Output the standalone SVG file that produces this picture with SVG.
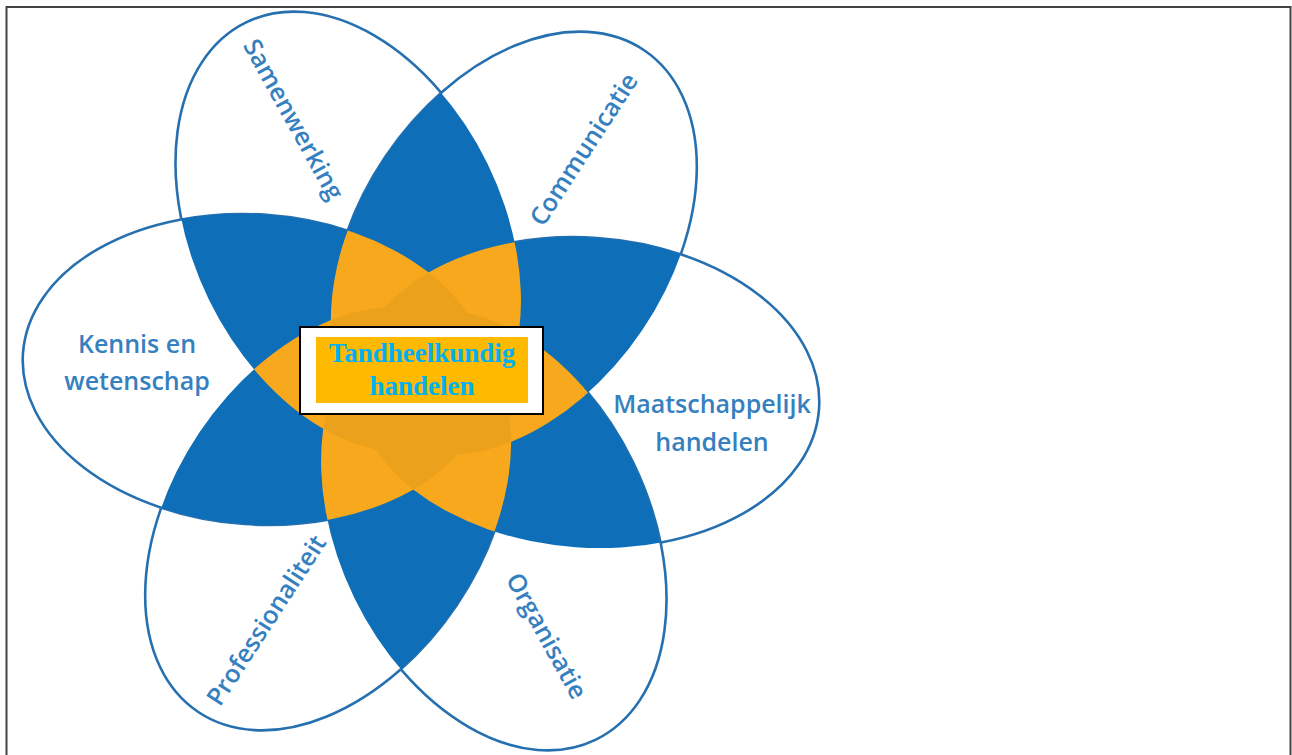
<svg xmlns="http://www.w3.org/2000/svg" xmlns:xlink="http://www.w3.org/1999/xlink" width="1292" height="755" viewBox="0 0 1292 755">
<style>
.petal{fill:#ffffff;stroke:#2670b0;stroke-width:2.6}
.lbl{font-family:"Open Sans","Noto Sans","DejaVu Sans",sans-serif;font-size:25px;font-weight:600;fill:#3580bf;text-anchor:middle}
.ctr{font-family:"Liberation Serif","Times New Roman",serif;font-weight:bold;font-size:27px;fill:#00b0f0;text-anchor:middle}
</style>
<defs>
<ellipse id="e1" cx="166" cy="0" rx="233" ry="155" transform="translate(421,381) rotate(-116)"/>
<ellipse id="e2" cx="166" cy="0" rx="233" ry="155" transform="translate(421,381) rotate(-56)"/>
<ellipse id="e3" cx="166" cy="0" rx="233" ry="155" transform="translate(421,381) rotate(4)"/>
<ellipse id="e4" cx="166" cy="0" rx="233" ry="155" transform="translate(421,381) rotate(64)"/>
<ellipse id="e5" cx="166" cy="0" rx="233" ry="155" transform="translate(421,381) rotate(124)"/>
<ellipse id="e6" cx="166" cy="0" rx="233" ry="155" transform="translate(421,381) rotate(184)"/>
<clipPath id="c1"><use xlink:href="#e1"/></clipPath>
<clipPath id="c2"><use xlink:href="#e2"/></clipPath>
<clipPath id="c3"><use xlink:href="#e3"/></clipPath>
<clipPath id="c4"><use xlink:href="#e4"/></clipPath>
<clipPath id="c5"><use xlink:href="#e5"/></clipPath>
<clipPath id="c6"><use xlink:href="#e6"/></clipPath>
</defs>
<rect x="6.5" y="7" width="1284" height="760" fill="#ffffff" stroke="#444444" stroke-width="2"/>
<g id="petals">
<use xlink:href="#e1" class="petal"/>
<use xlink:href="#e2" class="petal"/>
<use xlink:href="#e3" class="petal"/>
<use xlink:href="#e4" class="petal"/>
<use xlink:href="#e5" class="petal"/>
<use xlink:href="#e6" class="petal"/>
</g>
<g id="overlap2" fill="#0e6eb8">
<g clip-path="url(#c1)"><use xlink:href="#e2"/><use xlink:href="#e3"/><use xlink:href="#e4"/><use xlink:href="#e5"/><use xlink:href="#e6"/></g>
<g clip-path="url(#c2)"><use xlink:href="#e3"/><use xlink:href="#e4"/><use xlink:href="#e5"/><use xlink:href="#e6"/></g>
<g clip-path="url(#c3)"><use xlink:href="#e4"/><use xlink:href="#e5"/><use xlink:href="#e6"/></g>
<g clip-path="url(#c4)"><use xlink:href="#e5"/><use xlink:href="#e6"/></g>
<g clip-path="url(#c5)"><use xlink:href="#e6"/></g>
</g>
<g id="overlap3" fill="#f7a81c">
<g clip-path="url(#c1)">
<g clip-path="url(#c2)"><use xlink:href="#e3"/><use xlink:href="#e4"/><use xlink:href="#e5"/><use xlink:href="#e6"/></g>
<g clip-path="url(#c3)"><use xlink:href="#e4"/><use xlink:href="#e5"/><use xlink:href="#e6"/></g>
<g clip-path="url(#c4)"><use xlink:href="#e5"/><use xlink:href="#e6"/></g>
<g clip-path="url(#c5)"><use xlink:href="#e6"/></g>
</g>
<g clip-path="url(#c2)">
<g clip-path="url(#c3)"><use xlink:href="#e4"/><use xlink:href="#e5"/><use xlink:href="#e6"/></g>
<g clip-path="url(#c4)"><use xlink:href="#e5"/><use xlink:href="#e6"/></g>
<g clip-path="url(#c5)"><use xlink:href="#e6"/></g>
</g>
<g clip-path="url(#c3)">
<g clip-path="url(#c4)"><use xlink:href="#e5"/><use xlink:href="#e6"/></g>
<g clip-path="url(#c5)"><use xlink:href="#e6"/></g>
</g>
<g clip-path="url(#c4)">
<g clip-path="url(#c5)"><use xlink:href="#e6"/></g>
</g>
</g>
<g id="overlap4" fill="#eca11d">
<g clip-path="url(#c1)"><g clip-path="url(#c2)">
<g clip-path="url(#c3)"><use xlink:href="#e4"/><use xlink:href="#e5"/><use xlink:href="#e6"/></g>
<g clip-path="url(#c4)"><use xlink:href="#e5"/><use xlink:href="#e6"/></g>
<g clip-path="url(#c5)"><use xlink:href="#e6"/></g>
</g></g>
<g clip-path="url(#c1)"><g clip-path="url(#c3)">
<g clip-path="url(#c4)"><use xlink:href="#e5"/><use xlink:href="#e6"/></g>
<g clip-path="url(#c5)"><use xlink:href="#e6"/></g>
</g></g>
<g clip-path="url(#c1)"><g clip-path="url(#c4)"><g clip-path="url(#c5)"><use xlink:href="#e6"/></g></g></g>
<g clip-path="url(#c2)"><g clip-path="url(#c3)">
<g clip-path="url(#c4)"><use xlink:href="#e5"/><use xlink:href="#e6"/></g>
<g clip-path="url(#c5)"><use xlink:href="#e6"/></g>
</g></g>
<g clip-path="url(#c2)"><g clip-path="url(#c4)"><g clip-path="url(#c5)"><use xlink:href="#e6"/></g></g></g>
<g clip-path="url(#c3)"><g clip-path="url(#c4)"><g clip-path="url(#c5)"><use xlink:href="#e6"/></g></g></g>
</g>
<g id="labels">
<text class="lbl" transform="translate(286,123.5) rotate(61)">Samenwerking</text>
<text class="lbl" transform="translate(591,154) rotate(-57)">Communicatie</text>
<text class="lbl" transform="translate(539,640) rotate(61)">Organisatie</text>
<text class="lbl" transform="translate(273.5,625) rotate(-57)">Professionaliteit</text>
<text class="lbl" x="137" y="353">Kennis en</text>
<text class="lbl" x="137" y="390">wetenschap</text>
<text class="lbl" x="712" y="413">Maatschappelijk</text>
<text class="lbl" x="712" y="451">handelen</text>
</g>
<g id="center-node">
<rect x="300" y="327" width="243" height="87" fill="#ffffff" stroke="#000000" stroke-width="2"/>
<rect x="316" y="337" width="212" height="66" fill="#ffba00"/>
<text class="ctr" x="422" y="362">Tandheelkundig</text>
<text class="ctr" x="422" y="395">handelen</text>
</g>
</svg>
